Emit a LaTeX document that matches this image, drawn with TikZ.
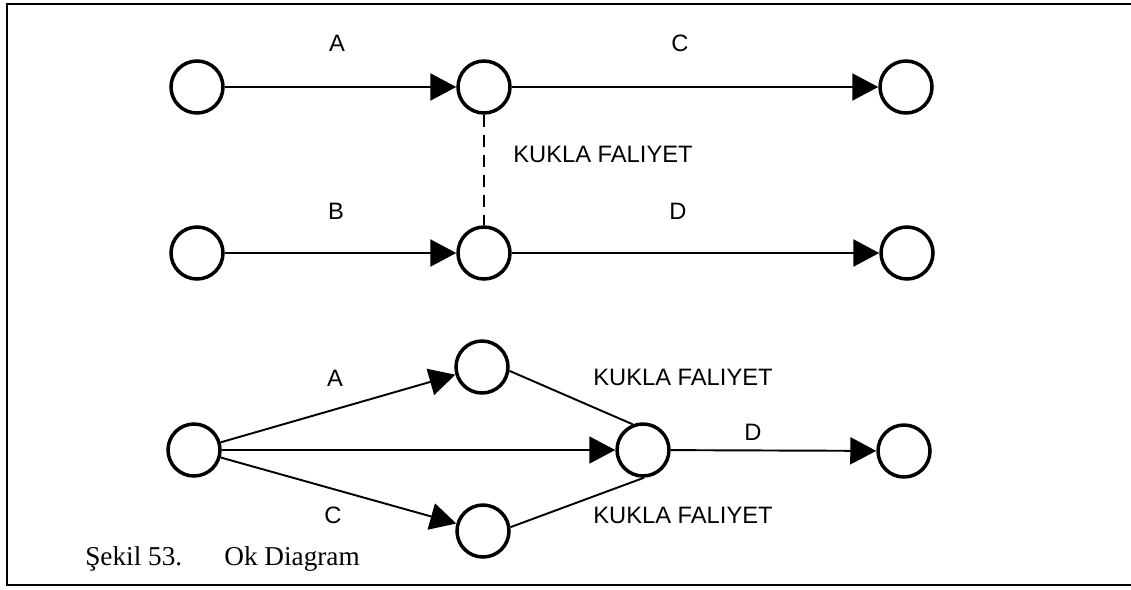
\documentclass[tikz,border=0pt]{standalone}
\usepackage{fontspec}
\setmainfont{Liberation Serif}
\newfontfamily\labelfont{Liberation Sans}
\usepackage{tikz}
\usetikzlibrary{arrows.meta,positioning}

\tikzset{
  event/.style={draw, circle, line width=2pt, minimum size=1.04cm, inner sep=0pt},
  act/.style={line width=1.4pt, -{Triangle[length=5.2mm, width=5.4mm]}},
  dummy/.style={line width=1.1pt},
  dummydash/.style={line width=0.9pt, dash pattern=on 0.24cm off 0.16cm},
  lbl/.style={font=\labelfont\fontsize{13.5}{16}\selectfont, inner sep=0pt}
}

\begin{document}
\begin{tikzpicture}[x=0.02cm, y=-0.02cm]
  \useasboundingbox (0,0) rectangle (1131,589);
  \draw[line width=1.6pt] (1145,4) rectangle (7,585);

  % first network: A -> C, B -> D, with a dummy in between
  \node[event] (a1) at (197,87) {};
  \node[event] (a2) at (484,87) {};
  \node[event] (a3) at (906,87) {};
  \node[event] (b1) at (197,253) {};
  \node[event] (b2) at (484,253) {};
  \node[event] (b3) at (907,253) {};

  \node[lbl] (la) at (337,43) {A};
  \node[lbl] (lc) at (680,43) {C};
  \node[lbl, anchor=west] (lk) at (513,154) {KUKLA FALIYET};
  \node[lbl] (lb) at (336,211) {B};
  \node[lbl] (ld) at (678,211) {D};

  \draw[act] (a1) -- (a2);
  \draw[act] (a2) -- (a3);
  \draw[act] (b1) -- (b2);
  \draw[act] (b2) -- (b3);
  \draw[dummydash] (a2) -- (b2);

  % second network: A and C merge through dummies before D
  \node[event] (c1) at (194,450) {};
  \node[event] (cu) at (482,367) {};
  \node[event] (cl) at (483,531) {};
  \node[event] (cm) at (643,450) {};
  \node[event] (ce) at (904,451) {};

  \node[lbl] (la2) at (335,378) {A};
  \node[lbl] (lc2) at (333,515) {C};
  \node[lbl] (ld2) at (753,432) {D};
  \node[lbl, anchor=west] (lk2) at (593,377) {KUKLA FALIYET};
  \node[lbl, anchor=west] (lk3) at (593,515) {KUKLA FALIYET};

  \draw[act, line width=1.1pt] (c1) -- (cu);
  \draw[act, line width=1.1pt] (c1) -- (cm);
  \draw[act, line width=1.1pt] (c1) -- (cl);
  \draw[dummy] (cu.-8) -- (cm.112);
  \draw[dummy] (cl.8) -- (cm.-88);
  \draw[act, line width=1.1pt] (cm) -- (ce);

  \node[anchor=base west, inner sep=0pt, font=\fontsize{15.5}{18}\selectfont] (cap) at (85,565) {Şekil 53.\hspace{24pt}Ok Diagram};
\end{tikzpicture}
\end{document}
